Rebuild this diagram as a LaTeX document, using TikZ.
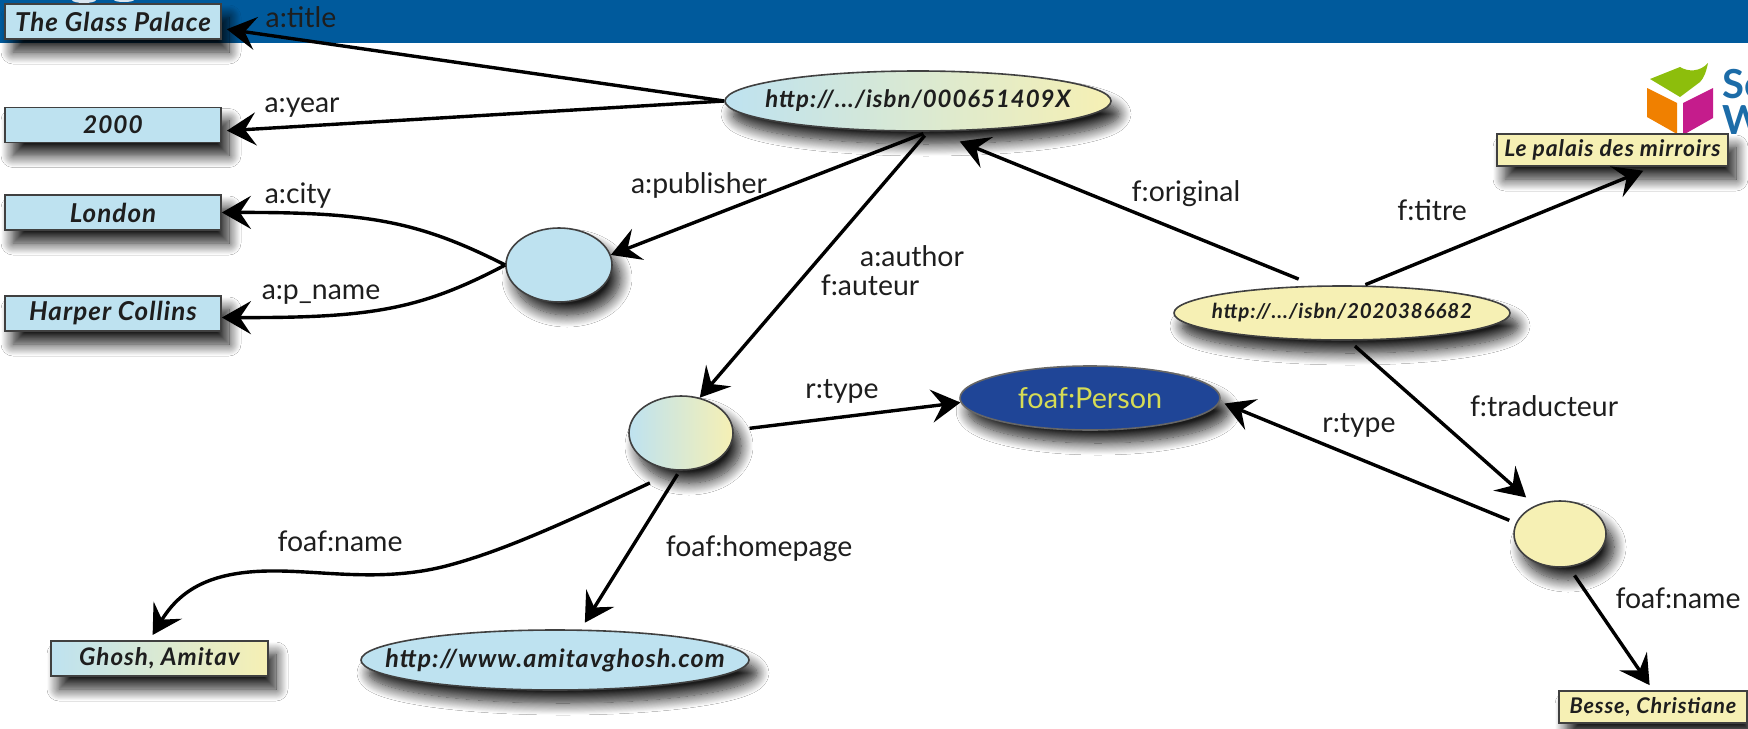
\documentclass[tikz,border=0pt]{standalone}
\usepackage{fontspec}
\setmainfont{Lato}
\newfontfamily\boxfont[LetterSpace=4]{Lato}
\usetikzlibrary{arrows.meta,shadows.blur,shapes.geometric,calc}
\definecolor{barblue}{HTML}{005A9C}
\definecolor{lblue}{HTML}{BEE2F0}
\definecolor{lyellow}{HTML}{F6F0B4}
\definecolor{pblue}{HTML}{1F4597}
\definecolor{ptext}{HTML}{D6DC55}
\definecolor{ink}{HTML}{1E1E1E}
\definecolor{logoblue}{HTML}{1C6CA8}
\newcommand{\boxtext}[2]{\boxfont\bfseries\itshape\fontsize{#1}{#1}\selectfont\makebox[0pt][c]{#2}}
\tikzset{
  x=0.5pt,y=-0.5pt,
  softshadow/.style={blur shadow={shadow xshift=4pt,shadow yshift=-6.5pt,shadow blur radius=6pt,shadow blur steps=16,shadow opacity=90}},
  valbox/.style={draw=black!75,line width=0.9pt,softshadow,inner sep=0pt,text=ink},
  bluebox/.style={valbox,fill=lblue,minimum width=108pt,minimum height=17.5pt},
  uri/.style={ellipse,draw=black!75,line width=0.8pt,softshadow,inner sep=0pt,text=ink},
  blank/.style={ellipse,draw=black!75,line width=0.8pt,softshadow,inner sep=0pt},
  rel/.style={font=\fontsize{14.2}{16}\selectfont,text=ink,inner sep=0pt},
  link/.style={draw=black,line width=1.7pt,-{Stealth[length=14.5pt,width=16.5pt,inset=5.5pt]}},
}
\begin{document}
\begin{tikzpicture}
\useasboundingbox (0,0) rectangle (1748,728);
\fill[white] (0,0) rectangle (1748,728);
\fill[barblue] (0,0) rectangle (1748,43);
% remains of the cut-off headline
\begin{scope}
\clip (0,0) rectangle (1748,43);
\fill[white!85!barblue] (84,0) ellipse [x radius=12,y radius=3];
\fill[white!85!barblue] (124,0) ellipse [x radius=10,y radius=2];
\end{scope}
% logo
\fill[white] (1641,43) rectangle (1748,140);
\fill[fill={rgb,255:red,141;green,190;blue,12}] (1650,79) -- (1680,67) .. controls (1688,72) and (1700,72) .. (1708,63) .. controls (1706,72) and (1704,78) .. (1700,82) -- (1680,97) -- cycle;
\fill[fill={rgb,255:red,240;green,128;blue,0}] (1647,88) -- (1677,103) -- (1677,134) -- (1647,117) -- cycle;
\fill[fill={rgb,255:red,197;green,28;blue,140}] (1683,103) -- (1713,88) -- (1713,118) -- (1683,135) -- cycle;
\begin{scope}
\clip (0,0) rectangle (1748,728);
\node[anchor=base west,inner sep=0pt,text=logoblue,font=\bfseries\fontsize{20}{20}\selectfont] (logoa) at (1722,98) {Se};
\node[anchor=base west,inner sep=0pt,text=logoblue,font=\bfseries\fontsize{20}{20}\selectfont] (logob) at (1722,134) {W};
\end{scope}
% value boxes
\node[bluebox] (title) at (113,21.5) {\boxtext{13}{The Glass Palace}};
\node[bluebox] (year) at (113,125) {\boxtext{12.2}{2000}};
\node[bluebox] (city) at (113,212.5) {\boxtext{13}{London}};
\node[bluebox] (pub) at (113,313.5) {\boxtext{13}{Harper Collins}};
\node[valbox,left color=lblue,right color=lyellow,minimum width=108.5pt,minimum height=17.5pt] (ghosh) at (159.5,658.5) {\boxtext{12.1}{Ghosh, Amitav}};
\node[valbox,fill=lyellow,minimum width=115.5pt,minimum height=16pt] (palais) at (1612.5,150) {\boxtext{11.4}{Le palais des mirroirs}};
\node[valbox,fill=lyellow,minimum width=94pt,minimum height=16pt] (besse) at (1653,707) {\boxtext{10.8}{Besse, Christiane}};
% ellipses
\node[uri,left color=lblue,right color=lyellow,minimum width=193pt,minimum height=30pt] (isbna) at (918,101) {\boxtext{12}{http://.../isbn/000651409X}};
\node[uri,fill=lyellow,minimum width=168pt,minimum height=27pt] (isbnb) at (1342,313) {\boxtext{10.3}{http://.../isbn/2020386682}};
\node[uri,fill=lblue,minimum width=194pt,minimum height=30pt] (home) at (555,660) {\boxtext{12.6}{http://www.amitavghosh.com}};
\node[ellipse,draw=black!60,line width=0.8pt,softshadow,fill=pblue,inner sep=0pt,minimum width=130pt,minimum height=32pt,text=ptext,font=\fontsize{14.4}{16}\selectfont] (person) at (1090,398) {\makebox[0pt][c]{foaf:Person}};
\node[blank,fill=lblue,minimum width=53pt,minimum height=37pt] (bpub) at (559,265) {};
\node[blank,left color=lblue,right color=lyellow,minimum width=52pt,minimum height=37pt] (bauth) at (681,433) {};
\node[blank,fill=lyellow,minimum width=46pt,minimum height=33pt] (btrad) at (1560,534) {};
% connectors
\draw[link,shorten >=2.5pt] (isbna.west) -- ([yshift=-3.5pt]title.east);
\draw[link,shorten >=2.5pt] (isbna.west) -- ([yshift=-3pt]year.east);
\draw[link,shorten <=2.5pt] (isbna.-72) -- (bpub.11);
\draw[link,shorten <=2.5pt] (isbna.-72) -- (bauth.62);
\draw[link] (bpub.west) .. controls (420,222) and (370,212) .. (city.east);
\draw[link] (bpub.west) .. controls (420,310) and (370,318) .. ([yshift=-2pt]pub.east);
\draw[link,shorten <=8pt] (bauth.3) -- (person.182);
\draw[link,shorten <=8.6pt,shorten >=13pt] (isbnb.135) -- (isbna.-60);
\draw[link,shorten <=1pt,shorten >=5pt] (isbnb.52) -- ([xshift=20pt]palais.south);
\draw[link,shorten <=4pt,shorten >=6pt] (isbnb.-76) -- (btrad.131);
\draw[link,shorten <=3.5pt,shorten >=2pt] (btrad.166) -- ([yshift=-2pt]person.east);
\draw[link,shorten <=5pt,shorten >=3pt] (btrad.-75) -- (besse.north);
\draw[link,shorten >=3pt] ([shift={(-5.5pt,-7.5pt)}]bauth.240) .. controls (560,525) and (500,552) .. (446,566) .. controls (380,583) and (320,570) .. (268,571) .. controls (210,572) and (180,590) .. ([xshift=-5pt]ghosh.north);
\draw[link,shorten <=2pt,shorten >=4pt] (bauth.-92) -- (home.50);
% labels
\node[rel] (la) at (301,17) {a:title};
\node[rel] (lb) at (302,108) {a:year};
\node[rel] (lc) at (298,196) {a:city};
\node[rel] (ld) at (321,295) {a:p\_name};
\node[rel] (le) at (699,185) {a:publisher};
\node[rel] (lf) at (912,256) {a:author};
\node[rel] (lg) at (870,285) {f:auteur};
\node[rel] (lh) at (1186,194) {f:original};
\node[rel] (li) at (1432,210) {f:titre};
\node[rel] (lj) at (1544,406) {f:traducteur};
\node[rel] (lk) at (842,391) {r:type};
\node[rel] (ll) at (1359,425) {r:type};
\node[rel] (lm) at (340,541) {foaf:name};
\node[rel] (ln) at (759,549) {foaf:homepage};
\node[rel] (lo) at (1678,598) {foaf:name};
\end{tikzpicture}
\end{document}
